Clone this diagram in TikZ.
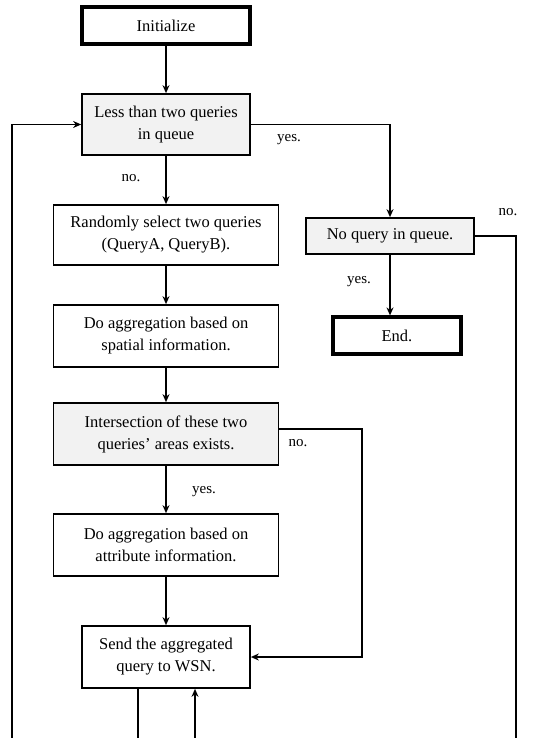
\documentclass[tikz,border=0pt]{standalone}
\usepackage{fontspec}
\setmainfont{Liberation Serif}
\usetikzlibrary{arrows.meta}
\definecolor{boxgray}{HTML}{F2F2F2}
\begin{document}
\begin{tikzpicture}[x=1pt,y=-1pt,
  every node/.style={font=\fontsize{16.5}{22}\selectfont},
  box/.style={draw, line width=1.7pt, align=center, inner sep=0pt},
  term/.style={box, line width=3.2pt},
  dec/.style={box, fill=boxgray},
  arr/.style={line width=1.7pt, -{Stealth[length=8pt,width=7pt]}},
  ln/.style={line width=1.7pt},
  lbl/.style={font=\fontsize{15}{18}\selectfont}]
\useasboundingbox (0,0) rectangle (551,738);
\node[term, minimum width=168pt, minimum height=37pt] (init) at (166,25.5) {Initialize};
\node[dec, minimum width=168pt, minimum height=61pt] (less) at (166,124.5) {Less than two queries\\in queue};
\node[box, minimum width=225pt, minimum height=60pt] (rand) at (166,235) {Randomly select two queries\\(QueryA, QueryB).};
\node[dec, minimum width=168pt, minimum height=36pt] (noq) at (390,236) {No query in queue.};
\node[term, minimum width=128pt, minimum height=37pt] (end) at (397,335.5) {End.};
\node[box, minimum width=225pt, minimum height=62pt] (spat) at (166,336) {Do aggregation based on\\spatial information.};
\node[dec, minimum width=225pt, minimum height=62pt] (inter) at (166,434) {Intersection of these two\\queries' areas exists.};
\node[box, minimum width=225pt, minimum height=62pt] (attr) at (166,545) {Do aggregation based on\\attribute information.};
\node[box, minimum width=168pt, minimum height=62pt] (send) at (166,657) {Send the aggregated\\query to WSN.};
\coordinate (bl) at (138,738);
\coordinate (br) at (195,738);
\coordinate (loopL) at (12,738);
\coordinate (loopR) at (516,738);
\coordinate (nojoint) at (362,429);
\draw[arr] (init) -- (less);
\draw[arr] (less) -- (rand);
\draw[arr] (rand) -- (spat);
\draw[arr] (spat) -- (inter);
\draw[arr] (inter) -- (attr);
\draw[arr] (attr) -- (send);
\draw[arr] (less.east) -| (noq.north);
\draw[arr] (noq.south) -- (noq.south |- end.north);
\draw[ln] (noq.east) -| (loopR);
\draw[arr] (inter.east |- nojoint) -- (nojoint) |- (send.east);
\draw[ln] (send.south -| bl) -- (bl);
\draw[arr] (br) -- (send.south -| br);
\draw[arr] (loopL) |- (less.west);
\node[lbl] (l1) at (131,178) {no.};
\node[lbl] (l2) at (289,140) {yes.};
\node[lbl] (l3) at (508,212) {no.};
\node[lbl] (l4) at (359,282) {yes.};
\node[lbl] (l5) at (298,443) {no.};
\node[lbl] (l6) at (204,492) {yes.};
\end{tikzpicture}
\end{document}
